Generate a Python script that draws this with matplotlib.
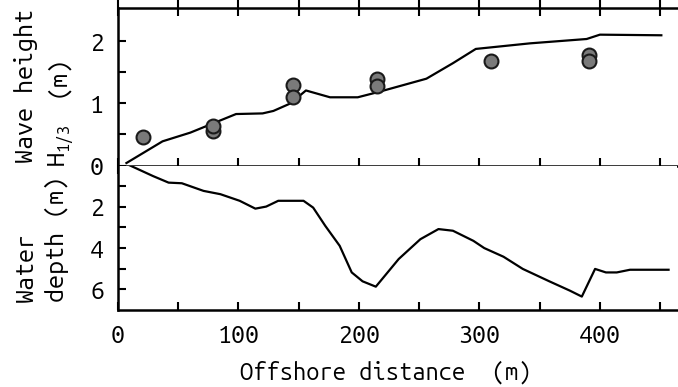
import matplotlib
matplotlib.use("Agg")
import matplotlib.pyplot as plt
from matplotlib.ticker import FixedLocator

FONT = ['Ubuntu Mono', 'DejaVu Sans Mono']
plt.rcParams['font.family'] = FONT

# ---- data ----
calc_x = [7, 37, 60, 79, 98, 120, 129, 143, 156, 176, 199, 217, 256, 278, 297, 342, 389, 400, 451]
calc_h = [0.04, 0.39, 0.53, 0.68, 0.83, 0.84, 0.88, 1.0, 1.21, 1.10, 1.10, 1.19, 1.40, 1.65, 1.88, 1.97, 2.04, 2.11, 2.10]

obs_x = [21, 79, 79, 145, 145, 215, 215, 310, 391, 391]
obs_h = [0.46, 0.56, 0.64, 1.30, 1.10, 1.39, 1.28, 1.69, 1.78, 1.68]

depth_x = [10, 29, 42, 53, 71, 85, 101, 114, 123, 133, 154, 162, 172, 184, 194, 203, 214, 233, 251, 266, 278, 295, 304, 320, 336, 358, 375, 385, 396, 405, 414, 425, 457]
depth_d = [0.0, 0.51, 0.83, 0.86, 1.23, 1.39, 1.71, 2.09, 1.99, 1.71, 1.71, 2.04, 2.92, 3.89, 5.18, 5.61, 5.87, 4.53, 3.57, 3.08, 3.16, 3.65, 4.0, 4.42, 5.01, 5.61, 6.06, 6.35, 5.01, 5.18, 5.18, 5.05, 5.05]

xticks_major = [0, 100, 200, 300, 400]
xticks_minor = [50, 150, 250, 350, 450]

W, H = 678, 387
fig = plt.figure(figsize=(W/100, H/100), dpi=100)
L, R = 118/W, 677/W
ytop, ymid, ybot = 1-8/H, 1-165.5/H, 1-310/H
ax1 = fig.add_axes([L, ymid, R-L, ytop-ymid])
ax2 = fig.add_axes([L, ybot, R-L, ymid-ybot], sharex=ax1)

lw = 1.8
for ax in (ax1, ax2):
    for s in ax.spines.values():
        s.set_linewidth(lw)
    ax.spines['right'].set_visible(False)

ax1.plot(calc_x, calc_h, color='black', lw=1.6, solid_joinstyle='round')
ax1.plot(obs_x, obs_h, linestyle='none', marker='o', ms=10, mfc='#7a7a7a', mec='#1a1a1a', mew=1.5)
ax1.set_xlim(0, 464)
ax1.set_ylim(0, 2.54)
ax1.yaxis.set_major_locator(FixedLocator([0, 1, 2]))
ax1.yaxis.set_minor_locator(FixedLocator([0.5, 1.5]))
ax1.xaxis.set_major_locator(FixedLocator(xticks_major))
ax1.xaxis.set_minor_locator(FixedLocator(xticks_minor))
ax1.tick_params(axis='x', which='both', direction='inout', top=True, bottom=True,
                labelbottom=False, length=12, width=1.5)
ax1.tick_params(axis='y', which='both', direction='in', length=6, width=1.5, labelsize=18, pad=10)

ax2.plot(depth_x, depth_d, color='black', lw=1.6, solid_joinstyle='round')
ax2.set_ylim(7, 0)
ax2.spines['top'].set_visible(False)
ax2.yaxis.set_major_locator(FixedLocator([2, 4, 6]))
ax2.yaxis.set_minor_locator(FixedLocator([1, 3, 5]))
ax2.xaxis.set_major_locator(FixedLocator(xticks_major))
ax2.xaxis.set_minor_locator(FixedLocator(xticks_minor))
ax2.tick_params(axis='x', which='both', direction='in', length=6, width=1.5, top=False,
                labelsize=18, pad=10)
ax2.tick_params(axis='y', which='both', direction='in', length=6, width=1.5, labelsize=18, pad=10)

fs = 18
fig.text(386/W, 1-372/H, 'Offshore distance  (m)', ha='center', va='center', fontsize=17)
fig.text(26/W, 1-163/H, 'Wave height', rotation=90, ha='center', va='bottom', fontsize=fs)
# H_{1/3} (m) built from pieces
fig.text(57/W, 1-165/H, 'H', rotation=90, ha='center', va='bottom', fontsize=fs)
fig.text(63/W, 1-151/H, '1/3', rotation=90, ha='center', va='bottom', fontsize=12)
fig.text(57/W, 1-97/H, '(m)', rotation=90, ha='center', va='bottom', fontsize=fs)
fig.text(26/W, 1-302/H, 'Water', rotation=90, ha='center', va='bottom', fontsize=fs)
fig.text(57/W, 1-302/H, 'depth (m)', rotation=90, ha='center', va='bottom', fontsize=fs)

fig.savefig('out.png', dpi=100)
